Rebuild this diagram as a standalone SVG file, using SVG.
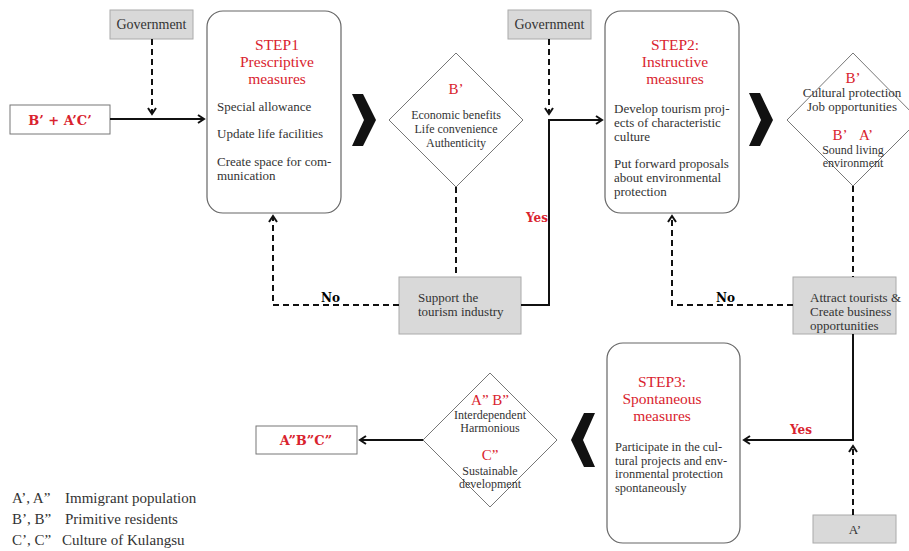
<svg xmlns="http://www.w3.org/2000/svg" width="909" height="551" viewBox="0 0 909 551">
<defs>
<style>
.t{font-family:"Liberation Serif","DejaVu Serif",serif;fill:#333;font-size:13px}
.red{fill:#d9232e}
.title{font-size:15.5px;text-anchor:middle}
.lbl{font-family:"DejaVu Serif","Liberation Serif",serif;font-weight:bold;font-size:13px}
.c{text-anchor:middle}
.d{font-size:12px}
.s3{font-size:12.5px}
.gbox{fill:#d9d9d9;stroke:#aaa;stroke-width:1}
.wbox{fill:#fff;stroke:#777;stroke-width:1}
.step{fill:#fff;stroke:#666;stroke-width:1.2}
.dia{fill:#fff;stroke:#777;stroke-width:1}
.solid{fill:none;stroke:#111;stroke-width:2}
.dash{fill:none;stroke:#111;stroke-width:2;stroke-dasharray:6 4}
.chev{fill:#111}
.leg{font-size:15px}
</style>
<marker id="ah" markerUnits="userSpaceOnUse" markerWidth="12" markerHeight="12" refX="7" refY="5" orient="auto">
<path d="M1,1 L7,5 L1,9" fill="none" stroke="#111" stroke-width="2"/>
</marker>
</defs>
<rect width="909" height="551" fill="#fff"/>

<g id="gov1"><rect class="gbox" x="110" y="10" width="83" height="29"/><text class="t c" x="151.5" y="29" style="font-size:14px">Government</text></g>
<g id="gov2"><rect class="gbox" x="508" y="10" width="83" height="29"/><text class="t c" x="549.5" y="29" style="font-size:14px">Government</text></g>

<g id="start"><rect class="wbox" x="10" y="105" width="100" height="29"/><text class="lbl red c" x="60" y="125">B’ + A’C’</text></g>

<g id="step1">
<rect class="step" x="207" y="11" width="134" height="202" rx="16"/>
<text class="t red title" x="277" y="50">STEP1</text>
<text class="t red title" x="277" y="67">Prescriptive</text>
<text class="t red title" x="277" y="84">measures</text>
<text class="t" x="217" y="111">Special allowance</text>
<text class="t" x="217" y="138">Update life facilities</text>
<text class="t" x="217" y="166">Create space for com-</text>
<text class="t" x="217" y="180">munication</text>
</g>

<g id="chev1"><polygon class="chev" points="352,94 363,94 376,120 363,146 352,146 364,120"/></g>

<g id="dia1">
<polygon class="dia" points="456,53 523,120 456,187 389,120"/>
<text class="t red c" x="456" y="94" style="font-size:15px">B’</text>
<text class="t c d" x="456" y="119">Economic benefits</text>
<text class="t c d" x="456" y="133">Life convenience</text>
<text class="t c d" x="456" y="147">Authenticity</text>
</g>

<g id="support"><rect class="gbox" x="399" y="277" width="122" height="57"/>
<text class="t" x="418" y="302">Support the</text><text class="t" x="418" y="316">tourism industry</text></g>

<g id="step2">
<rect class="step" x="605" y="11" width="134" height="202" rx="16"/>
<text class="t red title" x="675" y="50">STEP2:</text>
<text class="t red title" x="675" y="67">Instructive</text>
<text class="t red title" x="675" y="84">measures</text>
<text class="t" x="614" y="113">Develop tourism proj-</text>
<text class="t" x="614" y="127">ects of characteristic</text>
<text class="t" x="614" y="141">culture</text>
<text class="t" x="614" y="168">Put forward proposals</text>
<text class="t" x="614" y="182">about environmental</text>
<text class="t" x="614" y="196">protection</text>
</g>

<g id="chev2"><polygon class="chev" points="749,93 760,93 773,120 760,146 749,146 761,120"/></g>

<g id="dia2">
<polygon class="dia" points="853,53 919,120 853,186 787,120"/>
<text class="t red c" x="853" y="83" style="font-size:15px">B’</text>
<text class="t c" x="852" y="97">Cultural protection</text>
<text class="t c" x="852" y="111">Job opportunities</text>
<text class="t red c" x="840" y="140" style="font-size:15px">B’</text>
<text class="t red c" x="866" y="140" style="font-size:15px">A’</text>
<text class="t c d" x="853" y="154">Sound living</text>
<text class="t c d" x="853" y="167">environment</text>
</g>

<g id="attract"><rect class="gbox" x="793" y="277" width="103" height="57"/>
<text class="t" x="810" y="302">Attract tourists &amp;</text>
<text class="t" x="810" y="316">Create business</text>
<text class="t" x="810" y="330">opportunities</text></g>

<g id="aprime"><rect class="gbox" x="813" y="515" width="83" height="28"/><text class="t c" x="855" y="534">A’</text></g>

<g id="step3">
<rect class="step" x="607" y="343" width="133" height="200" rx="16"/>
<text class="t red title" x="662" y="387">STEP3:</text>
<text class="t red title" x="662" y="404">Spontaneous</text>
<text class="t red title" x="662" y="421">measures</text>
<text class="t s3" x="615" y="451">Participate in the cul-</text>
<text class="t s3" x="615" y="464.5">tural projects and env-</text>
<text class="t s3" x="615" y="478">ironmental protection</text>
<text class="t s3" x="615" y="491.5">spontaneously</text>
</g>

<g id="chev3"><polygon class="chev" points="595,413 584,413 571,440 584,467 595,467 583,440"/></g>

<g id="dia3">
<polygon class="dia" points="490,373 557,440 490,507 423,440"/>
<text class="t red c" x="490" y="405" style="font-size:15px">A”  B”</text>
<text class="t c d" x="490" y="419">Interdependent</text>
<text class="t c d" x="490" y="432">Harmonious</text>
<text class="t red c" x="490" y="460" style="font-size:15px">C”</text>
<text class="t c d" x="490" y="475">Sustainable</text>
<text class="t c d" x="490" y="488">development</text>
</g>

<g id="end"><rect class="wbox" x="256" y="426" width="101" height="28"/><text class="lbl red c" x="306" y="445">A”B”C”</text></g>

<g id="legend">
<text class="t leg" x="12" y="503">A’, A”</text><text class="t leg" x="65" y="503">Immigrant population</text>
<text class="t leg" x="12" y="524">B’, B”</text><text class="t leg" x="65" y="524">Primitive residents</text>
<text class="t leg" x="12" y="545">C’, C”</text><text class="t leg" x="62" y="545">Culture of Kulangsu</text>
</g>

<g id="connectors">
<path class="dash" d="M152,39 V114" marker-end="url(#ah)"/>
<path class="solid" d="M110,119 H204" marker-end="url(#ah)"/>
<path class="dash" d="M456,187 V277"/>
<path class="dash" d="M399,305 H273 V216" marker-end="url(#ah)"/>
<path class="solid" d="M521,305 H549 V120 H602" marker-end="url(#ah)"/>
<path class="dash" d="M549,39 V114" marker-end="url(#ah)"/>
<path class="dash" d="M853,186 V277"/>
<path class="dash" d="M793,305 H672 V216" marker-end="url(#ah)"/>
<path class="solid" d="M853,334 V440 H744" marker-end="url(#ah)"/>
<path class="dash" d="M853,515 V446" marker-end="url(#ah)"/>
<path class="solid" d="M423,440 H360" marker-end="url(#ah)"/>
<text class="lbl" x="321" y="302" style="font-size:12px">No</text>
<text class="lbl red" x="526" y="222" style="font-size:12px">Yes</text>
<text class="lbl" x="716" y="302" style="font-size:12px">No</text>
<text class="lbl red" x="790" y="434" style="font-size:12px">Yes</text>
</g>
</svg>
